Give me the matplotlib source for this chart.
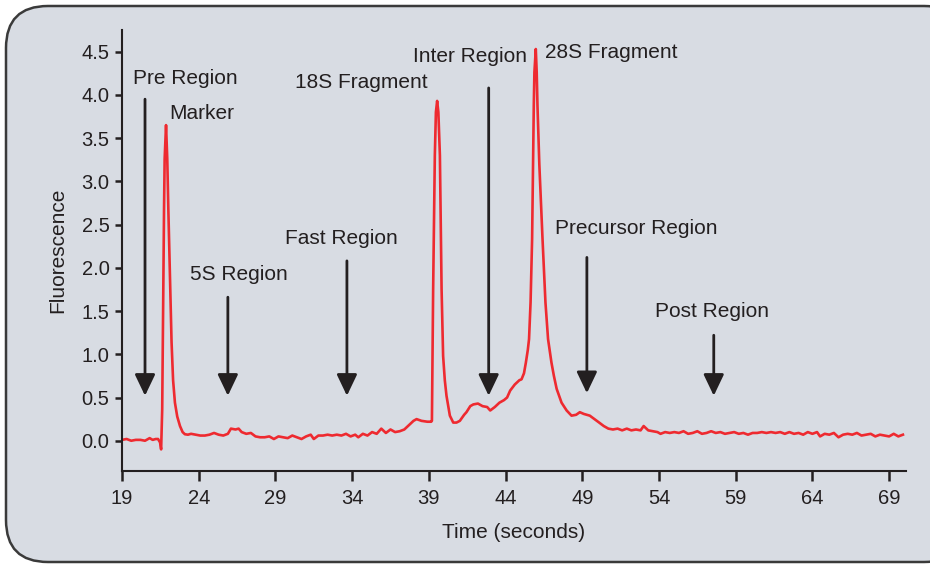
import matplotlib
matplotlib.use("Agg")
import matplotlib.pyplot as plt
from matplotlib.patches import FancyBboxPatch

time_s = [19.0, 19.3, 19.6, 19.9, 20.2, 20.5, 20.8, 21.0, 21.2, 21.35, 21.48, 21.55, 21.62, 21.68, 21.74,
          21.78, 21.87, 21.95, 22.02, 22.13, 22.23, 22.33, 22.45, 22.6, 22.78, 22.95, 23.1, 23.3, 23.5, 23.8,
          24.1, 24.4, 24.7, 25.0, 25.3, 25.6, 25.9, 26.1, 26.4, 26.6, 26.8, 27.1, 27.4, 27.7, 28.0, 28.3,
          28.6, 28.9, 29.2, 29.5, 29.8, 30.1, 30.4, 30.7, 31.0, 31.3, 31.5, 31.8, 32.1, 32.4, 32.7, 33.0,
          33.3, 33.6, 33.9, 34.2, 34.4, 34.7, 35.0, 35.3, 35.6, 35.9, 36.2, 36.5, 36.8, 37.1, 37.4, 37.7,
          38.0, 38.2, 38.52, 38.9, 39.15, 39.2, 39.24, 39.28, 39.39, 39.46, 39.54, 39.62, 39.72, 39.83, 39.93,
          40.04, 40.15, 40.37, 40.59, 40.8, 41.02, 41.3, 41.45, 41.7, 41.9, 42.2, 42.5, 42.8, 43.0, 43.3,
          43.6, 43.9, 44.1, 44.3, 44.6, 44.9, 45.04, 45.2, 45.32, 45.45, 45.53, 45.63, 45.73, 45.84, 45.88,
          45.97, 46.03, 46.08, 46.2, 46.41, 46.6, 46.77, 46.99, 47.15, 47.33, 47.65, 47.98, 48.3, 48.6, 48.84,
          49.1, 49.49, 49.8, 50.1, 50.4, 50.7, 51.0, 51.3, 51.6, 51.9, 52.2, 52.5, 52.8, 53.0, 53.3, 53.6,
          53.9, 54.1, 54.4, 54.7, 55.0, 55.3, 55.6, 55.9, 56.2, 56.5, 56.8, 57.1, 57.4, 57.7, 58.0, 58.3,
          58.6, 58.9, 59.2, 59.5, 59.8, 60.1, 60.4, 60.7, 61.0, 61.3, 61.6, 61.9, 62.2, 62.5, 62.8, 63.1,
          63.4, 63.7, 64.0, 64.3, 64.5, 64.8, 65.1, 65.4, 65.7, 66.0, 66.3, 66.6, 66.9, 67.2, 67.5, 67.8,
          68.1, 68.4, 68.7, 69.0, 69.3, 69.6, 69.9]
fluor = [0.01, 0.02, 0.00, 0.01, 0.01, 0.00, 0.03, 0.01, 0.02, 0.02, -0.02, -0.10, 0.36, 1.5, 2.68,
         3.26, 3.65, 3.26, 2.68, 1.9, 1.14, 0.7, 0.44, 0.28, 0.17, 0.10, 0.075, 0.07, 0.08, 0.07,
         0.06, 0.06, 0.07, 0.09, 0.07, 0.06, 0.08, 0.14, 0.13, 0.14, 0.10, 0.08, 0.09, 0.05, 0.04, 0.04,
         0.05, 0.02, 0.05, 0.04, 0.03, 0.06, 0.04, 0.02, 0.05, 0.07, 0.02, 0.06, 0.06, 0.07, 0.06, 0.07,
         0.06, 0.08, 0.05, 0.07, 0.04, 0.08, 0.06, 0.10, 0.08, 0.14, 0.09, 0.13, 0.10, 0.11, 0.13, 0.18,
         0.23, 0.25, 0.23, 0.22, 0.22, 0.23, 1.0, 1.75, 3.3, 3.8, 3.93, 3.8, 3.3, 1.75, 0.98,
         0.7, 0.52, 0.29, 0.21, 0.21, 0.23, 0.30, 0.33, 0.40, 0.42, 0.43, 0.40, 0.39, 0.35, 0.39,
         0.44, 0.47, 0.50, 0.58, 0.65, 0.70, 0.71, 0.78, 0.90, 1.05, 1.175, 1.6, 2.33, 3.875, 4.26,
         4.53, 4.26, 3.875, 3.2, 2.33, 1.6, 1.175, 0.905, 0.75, 0.6, 0.44, 0.35, 0.29, 0.30, 0.33,
         0.31, 0.29, 0.25, 0.21, 0.17, 0.14, 0.13, 0.14, 0.12, 0.14, 0.12, 0.13, 0.12, 0.17, 0.12, 0.11,
         0.10, 0.08, 0.10, 0.09, 0.10, 0.09, 0.11, 0.08, 0.09, 0.11, 0.08, 0.09, 0.11, 0.09, 0.10, 0.08,
         0.09, 0.10, 0.08, 0.09, 0.07, 0.09, 0.09, 0.10, 0.09, 0.10, 0.09, 0.10, 0.08, 0.10, 0.08, 0.09,
         0.07, 0.10, 0.08, 0.10, 0.05, 0.08, 0.07, 0.09, 0.04, 0.07, 0.08, 0.07, 0.09, 0.06, 0.07, 0.08,
         0.05, 0.07, 0.06, 0.05, 0.08, 0.05, 0.07]

x_ticks = [19, 24, 29, 34, 39, 44, 49, 54, 59, 64, 69]
y_ticks = [0.0, 0.5, 1.0, 1.5, 2.0, 2.5, 3.0, 3.5, 4.0, 4.5]

# arrow annotations: label, arrow x, arrow top, arrow tip, label x, label y
arrow_labels = ["Pre Region", "5S Region", "Fast Region", "Inter Region", "Precursor Region", "Post Region"]
arrow_x = [20.5, 25.9, 33.66, 42.9, 49.3, 57.57]
arrow_top = [3.95, 1.66, 2.08, 4.08, 2.12, 1.22]
arrow_tip = [0.52, 0.52, 0.52, 0.52, 0.55, 0.52]
arrow_label_x = [23.1, 26.62, 33.33, 41.67, 52.49, 57.44]
arrow_label_y = [4.19, 1.92, 2.34, 4.44, 2.46, 1.49]

peak_labels = ["Marker", "18S Fragment", "28S Fragment"]
peak_label_x = [22.06, 34.57, 46.56]
peak_label_y = [3.78, 4.14, 4.49]
peak_label_ha = ["left", "center", "left"]

plt.rcParams["font.family"] = ["Liberation Sans", "DejaVu Sans"]
dark = "#231f20"

fig = plt.figure(figsize=(9.3, 5.66), dpi=100)
fig.patch.set_facecolor("white")

bg = fig.add_axes([0, 0, 1, 1], zorder=-5)
bg.set_xlim(0, 930)
bg.set_ylim(566, 0)
bg.axis("off")
bg.add_patch(FancyBboxPatch((6, 6), 960, 556,
                            boxstyle="round,pad=0,rounding_size=42",
                            facecolor="#d8dce3", edgecolor="#3a3a3a", linewidth=1.8))

ax = fig.add_axes([122 / 930, 95 / 566, 784 / 930, 441 / 566])
ax.patch.set_alpha(0)
ax.plot(time_s, fluor, color="#ee2a30", lw=1.9, solid_joinstyle="round")
ax.set_xlim(19, 70.1)
ax.set_ylim(-0.35, 4.75)
ax.set_xticks(x_ticks)
ax.set_xticklabels([str(v) for v in x_ticks])
ax.set_yticks(y_ticks)
ax.set_yticklabels([f"{v:.1f}" for v in y_ticks])
for s in ["top", "right"]:
    ax.spines[s].set_visible(False)
for s in ["left", "bottom"]:
    ax.spines[s].set_color(dark)
    ax.spines[s].set_linewidth(1.5)
ax.tick_params(axis="x", direction="out", length=7, width=1.8, color=dark, labelsize=14.5,
               labelcolor=dark, pad=6)
ax.tick_params(axis="y", direction="out", length=5, width=1.8, color=dark, labelsize=14.5,
               labelcolor=dark, pad=4)
ax.set_xlabel("Time (seconds)", fontsize=15, color=dark, labelpad=11)
ax.set_ylabel("Fluorescence", fontsize=15, color=dark, labelpad=10)

for lab, xa, yt, yb, lx, ly in zip(arrow_labels, arrow_x, arrow_top, arrow_tip, arrow_label_x, arrow_label_y):
    ax.annotate("", xy=(xa, yb), xytext=(xa, yt),
                arrowprops=dict(arrowstyle="-|>,head_length=0.65,head_width=0.31", color=dark,
                                lw=2.0, shrinkA=0, shrinkB=0, mutation_scale=20))
    ax.text(lx, ly, lab, ha="center", va="center", fontsize=15, color=dark)

for lab, lx, ly, ha in zip(peak_labels, peak_label_x, peak_label_y, peak_label_ha):
    ax.text(lx, ly, lab, ha=ha, va="center", fontsize=15, color=dark)

fig.savefig("out.png", dpi=100)
